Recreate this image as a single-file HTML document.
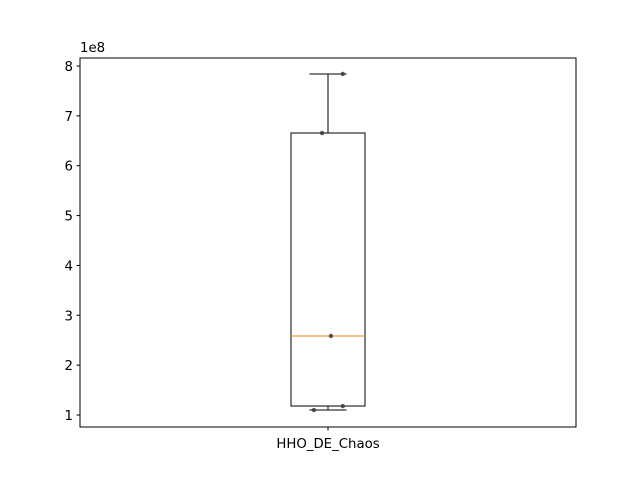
<!DOCTYPE html>
<html><head><meta charset="utf-8"><style>
body{margin:0;background:#fff;}
svg text{font-family:"DejaVu Sans","Liberation Sans",sans-serif;font-size:13.3px;fill:#000;}
</style></head><body>
<svg id="chart" width="640" height="480">
<rect x="0" y="0" width="640" height="480" fill="#fff"/>
<g id="plot"></g>
</svg>
<script>
const categories=["HHO_DE_Chaos"];
const points=[1.10e8,1.18e8,2.585e8,6.656e8,7.84e8];
const jitter=[-0.19,0.2,0.04,-0.08,0.2];
const stats={min:1.10e8,q1:1.18e8,med:2.585e8,q3:6.656e8,max:7.84e8};
const yTicks=[1,2,3,4,5,6,7,8];
const L=80,R=576,T=58,B=427;
function y(v){return 415-(v/1e8-1)*(349/7);}
function xpos(i){return 328;}
const W=74/2;
const ns="http://www.w3.org/2000/svg";
const g=document.getElementById('plot');
function mk(t,a,p){const e=document.createElementNS(ns,t);for(const k in a)e.setAttribute(k,a[k]);(p||g).appendChild(e);return e;}
const cx=xpos(0);
let e;
e=mk('line',{x1:cx,x2:cx,y1:y(stats.q3),y2:y(stats.max),stroke:'#000'});

e=mk('line',{x1:cx,x2:cx,y1:y(stats.q1),y2:y(stats.min),stroke:'#000'});

e=mk('line',{x1:cx-18.5,x2:cx+18.5,y1:y(stats.max),y2:y(stats.max),stroke:'#000'});

e=mk('line',{x1:cx-18.5,x2:cx+18.5,y1:y(stats.min),y2:y(stats.min),stroke:'#000'});

e=mk('rect',{x:cx-W,y:y(stats.q3),width:2*W,height:y(stats.q1)-y(stats.q3),fill:'none',stroke:'#000'});

e=mk('line',{x1:cx-W,x2:cx+W,y1:y(stats.med),y2:y(stats.med),stroke:'#ff7f0e'});

points.forEach((v,i)=>{const c=mk('circle',{cx:cx+jitter[i]*2*W,cy:y(v),r:2.2,fill:'#333',opacity:0.8});
});
e=mk('rect',{x:L,y:T,width:R-L,height:B-T,fill:'none',stroke:'#000'});

yTicks.forEach(t=>{const yy=y(t*1e8);
const l=mk('line',{x1:L-3.5,x2:L,y1:yy,y2:yy,stroke:'#000'});

const tx=mk('text',{x:L-7,y:yy+5,'text-anchor':'end'});tx.textContent=t;
});
e=mk('text',{x:L,y:T-6});e.textContent='1e8';

categories.forEach((c,i)=>{const x=xpos(i);
const l=mk('line',{x1:x,x2:x,y1:B,y2:B+3.5,stroke:'#000'});

const t=mk('text',{x:x,y:B+21,'text-anchor':'middle'});t.textContent=c;
});
</script>
</body></html>
